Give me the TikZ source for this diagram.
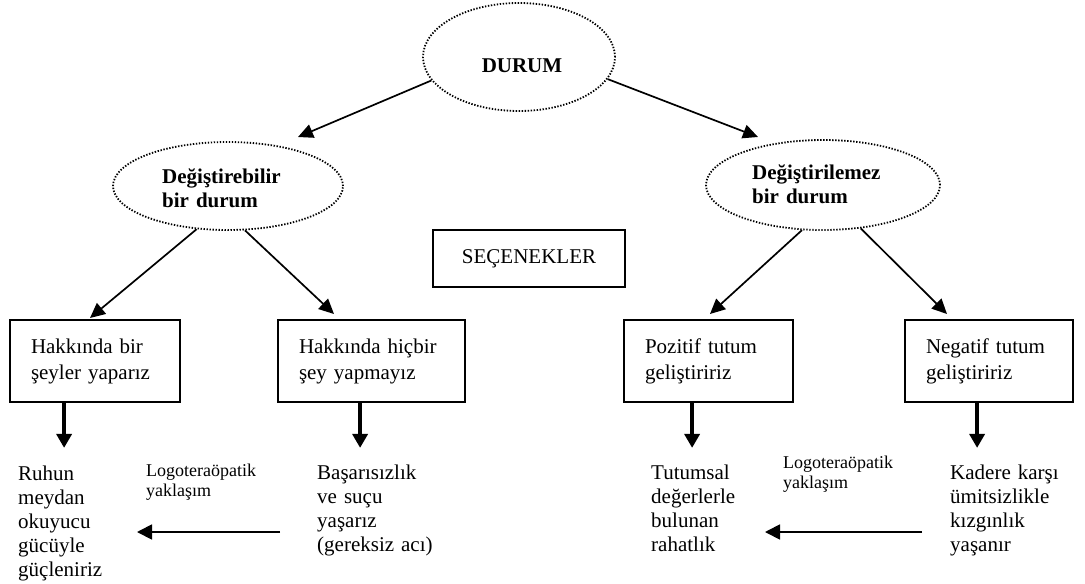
\documentclass[tikz,border=0pt]{standalone}
\usepackage{fontspec}
\setmainfont{Liberation Serif}
\usetikzlibrary{arrows.meta,shapes.geometric,calc}
\tikzset{
  ell/.style={ellipse, draw, line width=1.8pt, dash pattern=on 1.4pt off 1.6pt, inner sep=0pt},
  boxst/.style={rectangle, draw, line width=1.8pt, minimum height=82pt, inner xsep=21pt, align=left,
    font=\fontsize{21}{26}\selectfont},
  btxt/.style={anchor=base west, inner sep=0pt, align=left, text width=135pt,
    font=\fontsize{21}{24}\selectfont},
  etxt/.style={anchor=base west, inner sep=0pt, align=left, text width=140pt,
    font=\fontsize{21}{24}\selectfont\bfseries},
  ltxt/.style={anchor=base west, inner sep=0pt, align=left, text width=120pt,
    font=\fontsize{18}{20.5}\selectfont},
  arr/.style={line width=1.7pt, -{Triangle[length=15pt,width=14pt]}},
  tarr/.style={line width=3.5pt, -{Triangle[length=14pt,width=15pt]}},
  harr/.style={line width=1.8pt, -{Triangle[length=15pt,width=15pt]}},
}
\begin{document}
\begin{tikzpicture}[x=1pt,y=-1pt]
\useasboundingbox (0,0) rectangle (1085,584);
% ellipses
\node[ell, minimum width=192pt, minimum height=108pt] (durum) at (519,57) {};
\node[anchor=base, inner sep=0pt, font=\fontsize{21}{24}\selectfont\bfseries] (durumt) at (522,72) {DURUM};
\node[ell, minimum width=230pt, minimum height=88pt] (ell1) at (228,186) {};
\node[etxt] (ell1t) at (162,183) {Değiştirebilir\\bir durum};
\node[ell, minimum width=234pt, minimum height=90pt] (ell2) at (823,185) {};
\node[etxt] (ell2t) at (752,179) {Değiştirilemez\\bir durum};
% options box
\node[rectangle, draw, line width=1.8pt, minimum width=192pt, minimum height=57pt, inner sep=0pt,
  font=\fontsize{21}{24}\selectfont] (sec) at (529,258.5) {SEÇENEKLER};
% boxes
\node[boxst, minimum width=170pt, text width=128pt] (box1) at (95,361) {Hakkında bir\\şeyler yaparız};
\node[boxst, minimum width=187pt, text width=145pt] (box2) at (371.5,361) {Hakkında hiçbir\\şey yapmayız};
\node[boxst, minimum width=169pt, text width=127pt] (box3) at (708.5,361) {Pozitif tutum\\geliştiririz};
\node[boxst, minimum width=168pt, text width=126pt] (box4) at (989,361) {Negatif tutum\\geliştiririz};
% bottom texts
\node[btxt] (ruhun) at (18,480) {Ruhun\\meydan\\okuyucu\\gücüyle\\güçleniriz};
\node[ltxt] (logo1) at (146,476) {Logoteraöpatik\\yaklaşım};
\node[btxt] (bas) at (317,479) {Başarısızlık\\ve suçu\\yaşarız\\(gereksiz acı)};
\node[btxt] (tutum) at (651,479) {Tutumsal\\değerlerle\\bulunan\\rahatlık};
\node[ltxt] (logo2) at (783,468) {Logoteraöpatik\\yaklaşım};
\node[btxt] (kadere) at (950,479) {Kadere karşı\\ümitsizlikle\\kızgınlık\\yaşanır};
% arrow tips
\coordinate (t1) at (298,137);
\coordinate (t2) at (758,137);
\coordinate (t3) at (90,318);
\coordinate (t4) at (334,314);
\coordinate (t5) at (710,314);
\coordinate (t6) at (947,314);
\coordinate (h1s) at (280,532);
\coordinate (h1e) at (137,532);
\coordinate (h2s) at (922,532);
\coordinate (h2e) at (765,532);
% thin arrows
\draw[arr] (durum.195) -- (t1);
\draw[arr] (durum.-14) -- (t2);
\draw[arr] (ell1.234) -- (t3);
\draw[arr] (ell1.-69) -- (t4);
\draw[arr] (ell2.-115) -- (t5);
\draw[arr] (ell2.-49) -- (t6);
% thick arrows
\draw[tarr] ($(box1.south west)+(55,0)$) -- ++(0,45);
\draw[tarr] ($(box2.south west)+(83,0)$) -- ++(0,45);
\draw[tarr] ($(box3.south west)+(69,0)$) -- ++(0,45);
\draw[tarr] ($(box4.south west)+(73,0)$) -- ++(0,45);
% horizontal arrows
\draw[harr] (h1s) -- (h1e);
\draw[harr] (h2s) -- (h2e);
\end{tikzpicture}
\end{document}
